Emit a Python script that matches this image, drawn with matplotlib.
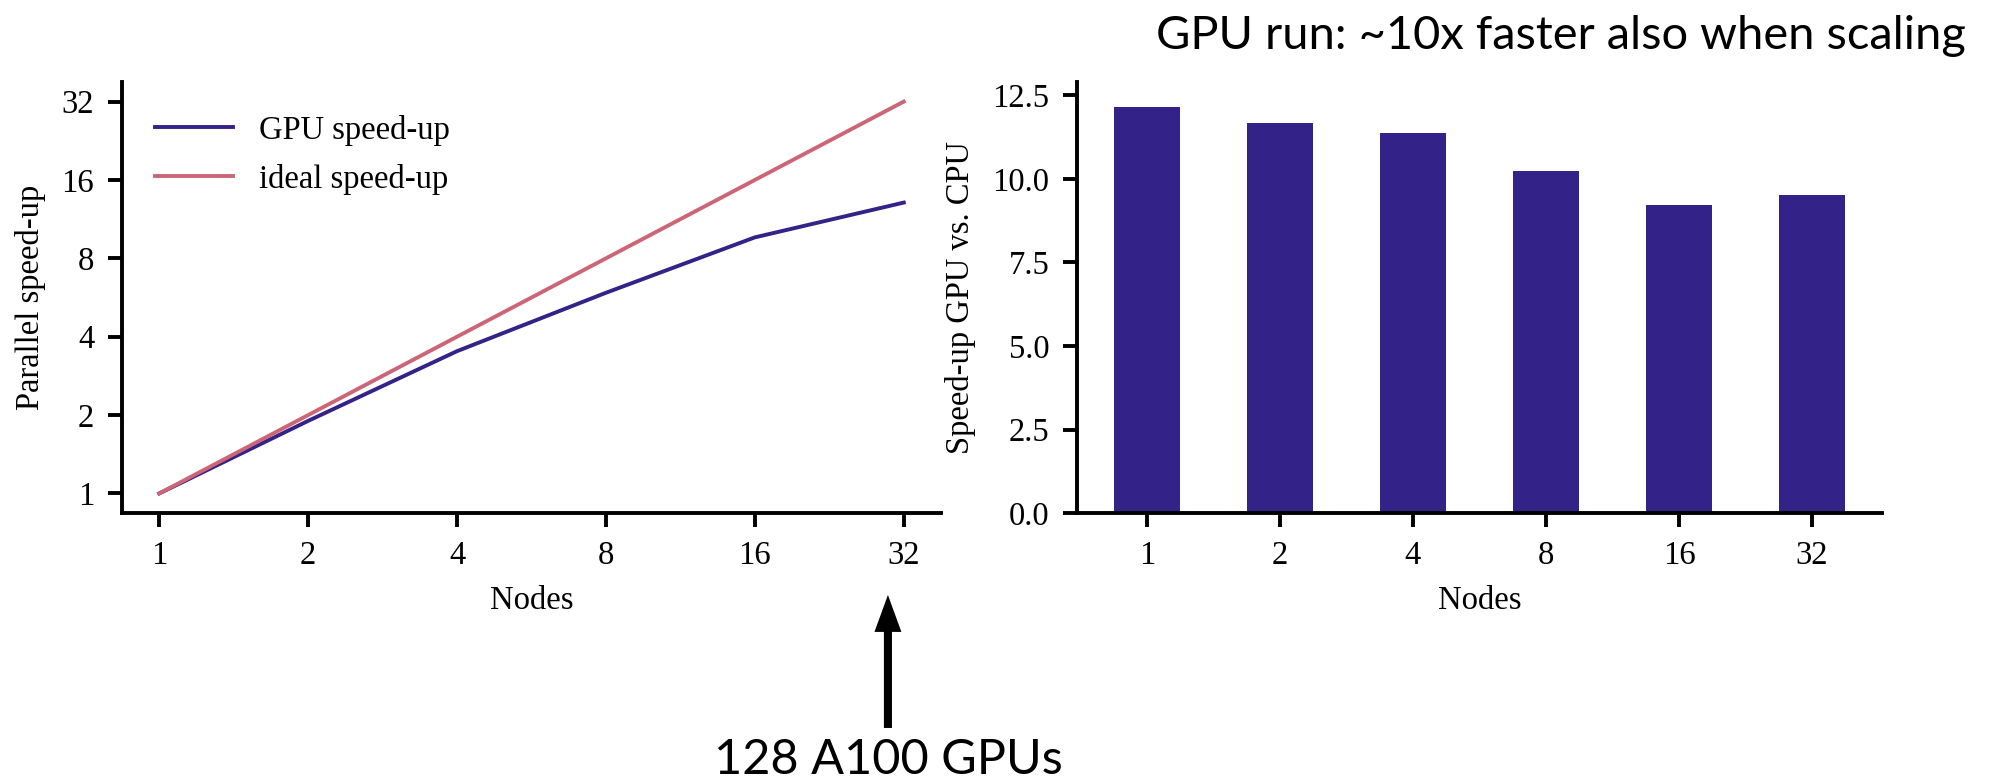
import numpy as np
import matplotlib
matplotlib.use("Agg")
import matplotlib.pyplot as plt
from matplotlib.patches import FancyArrowPatch
from matplotlib.ticker import FixedLocator, FixedFormatter, NullLocator

nodes = [1, 2, 4, 8, 16, 32]
node_labels = ["1", "2", "4", "8", "16", "32"]
gpu_speedup = [1.0, 1.90, 3.52, 5.9, 9.63, 13.1]
ideal_speedup = [1, 2, 4, 8, 16, 32]
gpu_vs_cpu = [12.16, 11.67, 11.38, 10.25, 9.21, 9.51]

indigo = "#332288"
rose = "#CC6677"

plt.rcParams["font.family"] = ["Liberation Serif", "DejaVu Serif"]
plt.rcParams["font.size"] = 23.5
plt.rcParams["axes.linewidth"] = 2.8
plt.rcParams["xtick.major.width"] = 2.8
plt.rcParams["ytick.major.width"] = 2.8
plt.rcParams["xtick.major.size"] = 10
plt.rcParams["ytick.major.size"] = 10
plt.rcParams["xtick.major.pad"] = 10
plt.rcParams["ytick.major.pad"] = 10

fig = plt.figure(figsize=(19.94, 7.81), dpi=100)

# left: parallel speed-up
ax1 = fig.add_axes([0.0612, 0.3431, 0.4107, 0.5519])
ax1.plot(nodes, gpu_speedup, color=indigo, lw=2.8, label="GPU speed-up")
ax1.plot(nodes, ideal_speedup, color=rose, lw=2.8, label="ideal speed-up")
ax1.set_xscale("log", base=2)
ax1.set_yscale("log", base=2)
ax1.xaxis.set_major_locator(FixedLocator(nodes))
ax1.xaxis.set_major_formatter(FixedFormatter(node_labels))
ax1.xaxis.set_minor_locator(NullLocator())
ax1.yaxis.set_major_locator(FixedLocator(ideal_speedup))
ax1.yaxis.set_major_formatter(FixedFormatter(node_labels))
ax1.yaxis.set_minor_locator(NullLocator())
ax1.set_xlabel("Nodes", labelpad=10)
ax1.set_ylabel("Parallel speed-up", labelpad=11)
ax1.legend(loc="upper left", frameon=False, handlelength=2.4,
           borderaxespad=0.6, labelspacing=0.55)
for s in ["top", "right"]:
    ax1.spines[s].set_visible(False)

# right: GPU vs CPU
ax2 = fig.add_axes([0.5401, 0.3431, 0.4037, 0.5519])
ax2.bar(range(len(nodes)), gpu_vs_cpu, width=0.5, color=indigo)
ax2.set_xticks(range(len(nodes)))
ax2.set_xticklabels(node_labels)
ax2.set_yticks([0, 2.5, 5, 7.5, 10, 12.5])
ax2.set_ylim(0, 12.9)
ax2.set_xlabel("Nodes", labelpad=10)
ax2.set_ylabel("Speed-up GPU vs. CPU", labelpad=12)
for s in ["top", "right"]:
    ax2.spines[s].set_visible(False)

fig.text(0.986, 0.954, "GPU run: ~10x faster also when scaling",
         family="Lato", fontsize=33.8, ha="right", va="center")
fig.text(0.4453, 0.0269, "128 A100 GPUs", family="Lato", fontsize=35,
         ha="center", va="center")
fig.add_artist(FancyArrowPatch(
    (0.4453, 0.0679), (0.4453, 0.2382), transform=fig.transFigure,
    arrowstyle="simple,head_length=2.66,head_width=1.94,tail_width=0.58",
    mutation_scale=10, shrinkA=0, shrinkB=0, lw=0, color="black"))

fig.savefig("out.png", dpi=100)
